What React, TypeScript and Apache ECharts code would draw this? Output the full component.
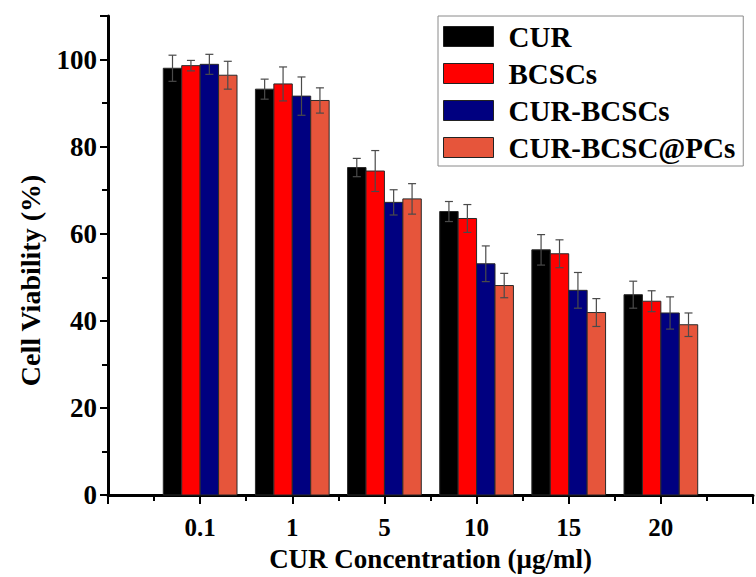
import React, { useEffect, useRef } from "react";
import * as echarts from "echarts";

const categories = ["0.1", "1", "5", "10", "15", "20"];
const seriesNames = ["CUR", "BCSCs", "CUR-BCSCs", "CUR-BCSC@PCs"];
const seriesColors = ["#000000", "#ff0000", "#000080", "#e6553b"];

const curValues = [98.0, 93.2, 75.2, 65.1, 56.3, 46.0];
const curErrors = [3.0, 2.3, 2.1, 2.3, 3.5, 3.1];
const bcscValues = [98.6, 94.4, 74.4, 63.5, 55.4, 44.5];
const bcscErrors = [1.2, 3.9, 4.7, 3.2, 3.2, 2.4];
const curBcscValues = [98.9, 91.6, 67.2, 53.1, 47.0, 41.8];
const curBcscErrors = [2.3, 4.4, 2.9, 4.1, 4.1, 3.7];
const pcValues = [96.4, 90.6, 68.0, 48.1, 41.9, 39.1];
const pcErrors = [3.2, 2.9, 3.5, 2.8, 3.2, 2.7];

const allValues = [curValues, bcscValues, curBcscValues, pcValues];
const allErrors = [curErrors, bcscErrors, curBcscErrors, pcErrors];

const FONT = "'Liberation Serif', 'Times New Roman', serif";

export default function App() {
  const ref = useRef<HTMLDivElement>(null);
  useEffect(() => {
    if (!ref.current) return;
    const chart = echarts.init(ref.current, undefined, { renderer: "svg" });
    const nSeries = seriesNames.length;

    const series = seriesNames.map((name, s) => ({
      name,
      type: "custom",
      itemStyle: { color: seriesColors[s] },
      encode: { x: 0, y: 1 },
      data: categories.map((_, i) => [i + 1, allValues[s][i], allErrors[s][i]]),
      renderItem: (params: any, api: any) => {
        const cat = api.value(0);
        const val = api.value(1);
        const err = api.value(2);
        const base = api.coord([cat, 0]);
        const top = api.coord([cat, val]);
        const band = api.size([1, 0])[0];
        const bw = band * 0.2;
        const cx = base[0] + (s - (nSeries - 1) / 2) * bw;
        const yHi = api.coord([cat, val + err])[1];
        const yLo = api.coord([cat, val - err])[1];
        const cap = 4;
        const eStyle = { stroke: "#4a4a4a", lineWidth: 1.2 };
        return {
          type: "group",
          children: [
            {
              type: "rect",
              shape: { x: cx - bw / 2, y: top[1], width: bw, height: base[1] - top[1] },
              style: { fill: seriesColors[s], stroke: "#2a2a2a", lineWidth: 1 },
            },
            { type: "line", shape: { x1: cx, y1: yHi, x2: cx, y2: yLo }, style: eStyle },
            { type: "line", shape: { x1: cx - cap, y1: yHi, x2: cx + cap, y2: yHi }, style: eStyle },
            { type: "line", shape: { x1: cx - cap, y1: yLo, x2: cx + cap, y2: yLo }, style: eStyle },
          ],
        };
      },
    }));

    chart.setOption({
      animation: false,
      backgroundColor: "#ffffff",
      grid: { left: 108, top: 16, width: 654, height: 483 },
      legend: {
        orient: "vertical",
        left: 438,
        top: 16,
        data: seriesNames,
        icon: "rect",
        itemWidth: 50,
        itemHeight: 20,
        itemGap: 8,
        padding: [6, 8, 4, 5],
        borderColor: "#8a8a8a",
        borderWidth: 1,
        itemStyle: { borderColor: "#222", borderWidth: 1 },
        textStyle: {
          fontFamily: FONT,
          fontWeight: "bold",
          fontSize: 29,
          color: "#000",
          padding: [0, 0, 0, 10],
        },
      },
      xAxis: {
        type: "value",
        min: 0,
        max: 7,
        interval: 1,
        splitLine: { show: false },
        axisLine: { lineStyle: { color: "#000", width: 3 } },
        axisTick: { length: 9, lineStyle: { color: "#000", width: 2 } },
        minorTick: { show: true, splitNumber: 2, length: 6, lineStyle: { color: "#000", width: 2 } },
        axisLabel: {
          margin: 20,
          fontFamily: FONT,
          fontWeight: "bold",
          fontSize: 25,
          color: "#000",
          formatter: (v: number) => categories[v - 1] ?? "",
        },
        name: "CUR Concentration (μg/ml)",
        nameLocation: "middle",
        nameGap: 50,
        nameTextStyle: { fontFamily: FONT, fontWeight: "bold", fontSize: 27, color: "#000" },
      },
      yAxis: {
        type: "value",
        min: 0,
        max: 110,
        interval: 20,
        splitLine: { show: false },
        axisLine: { show: true, lineStyle: { color: "#000", width: 3 } },
        axisTick: { show: true, length: 8, lineStyle: { color: "#000", width: 2 } },
        minorTick: { show: true, splitNumber: 2, length: 6, lineStyle: { color: "#000", width: 2 } },
        axisLabel: {
          margin: 11,
          fontFamily: FONT,
          fontWeight: "bold",
          fontSize: 27,
          color: "#000",
          formatter: (v: number) => (v > 100 ? "" : String(v)),
        },
        name: "Cell Viability (%)",
        nameLocation: "middle",
        nameGap: 64,
        nameTextStyle: {
          fontFamily: FONT,
          fontWeight: "bold",
          fontSize: 28,
          color: "#000",
          padding: [0, 50, 0, 0],
        },
      },
      series,
    });
    return () => chart.dispose();
  }, []);

  return (
    <div
      ref={ref}
      style={{ position: "absolute", left: 0, top: 0, width: 756, height: 577 }}
    />
  );
}
